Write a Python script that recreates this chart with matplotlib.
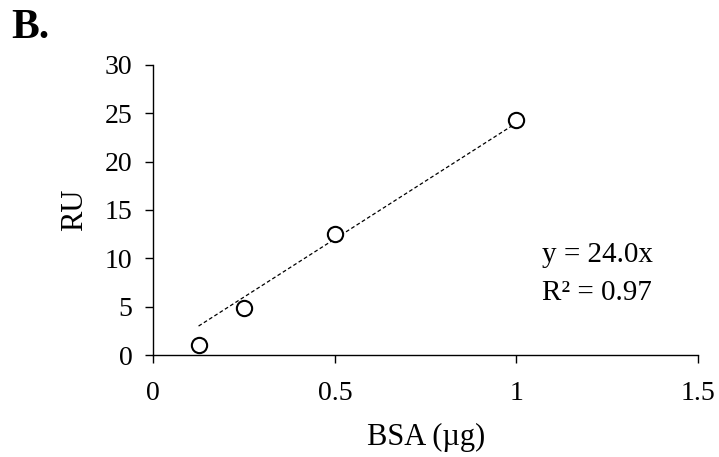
import matplotlib
matplotlib.use('Agg')
import matplotlib.pyplot as plt
import numpy as np

# BSA amount (ug) and response units
bsa = [0.125, 0.25, 0.5, 1.0]
ru = [1.0, 4.9, 12.5, 24.3]
slope = 24.0
r_squared = 0.97

plt.rcParams['font.family'] = ['Liberation Serif', 'DejaVu Serif']

fig = plt.figure(figsize=(7.19, 4.57), dpi=100)
ax = fig.add_axes([0.213, 0.223, 0.758, 0.635])

# linear trendline through origin
fit_x = np.array([min(bsa), max(bsa)])
ax.plot(fit_x, slope * fit_x, linestyle=(0, (3, 2)), color='black', linewidth=0.9)
ax.plot(bsa, ru, linestyle='none', marker='o', markersize=11,
        markerfacecolor='white', markeredgecolor='black', markeredgewidth=1.5)

ax.set_xlim(0, 1.5)
ax.set_ylim(0, 30)
ax.set_xticks([0, 0.5, 1, 1.5])
ax.set_xticklabels(['0', '0.5', '1', '1.5'])
ax.set_yticks(range(0, 31, 5))
ax.spines['top'].set_visible(False)
ax.spines['right'].set_visible(False)
for s in ['left', 'bottom']:
    ax.spines[s].set_linewidth(1.0)
ax.tick_params(labelsize=20, length=6, width=1.0, direction='out')
ax.tick_params(axis='x', pad=13)
ax.tick_params(axis='y', pad=9)

ax.set_xlabel('BSA (µg)', fontsize=22, labelpad=12)
ax.set_ylabel('RU', fontsize=22, labelpad=11)

ax.text(1.071, 9.6, 'y = %.1fx' % slope, fontsize=21, va='baseline')
ax.text(1.071, 5.7, 'R² = %.2f' % r_squared, fontsize=21, va='baseline')

fig.text(0.016, 0.98, 'B.', fontsize=30, fontweight='bold', va='top')

fig.savefig('out.png', dpi=100)
